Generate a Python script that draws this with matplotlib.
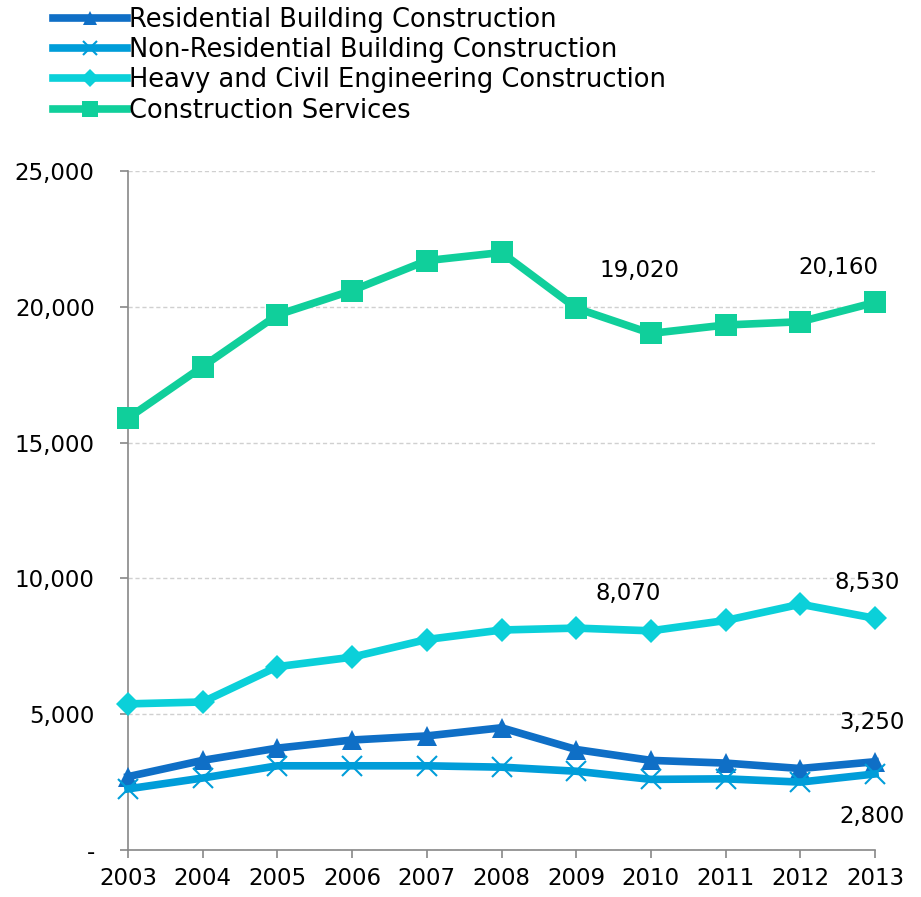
import matplotlib
matplotlib.use("Agg")
import matplotlib.pyplot as plt
from matplotlib.ticker import FuncFormatter

years = [2003, 2004, 2005, 2006, 2007, 2008, 2009, 2010, 2011, 2012, 2013]
residential = [2700, 3300, 3750, 4050, 4200, 4500, 3700, 3300, 3200, 3000, 3250]
non_residential = [2250, 2650, 3100, 3100, 3100, 3050, 2900, 2600, 2620, 2500, 2800]
heavy_civil = [5380, 5450, 6750, 7100, 7750, 8100, 8170, 8070, 8450, 9050, 8530]
services = [15900, 17800, 19700, 20600, 21700, 22000, 19950, 19020, 19330, 19450, 20160]

series_names = ["Residential Building Construction",
                "Non-Residential Building Construction",
                "Heavy and Civil Engineering Construction",
                "Construction Services"]
y_ticks = [0, 5000, 10000, 15000, 20000, 25000]

plt.rcParams['font.family'] = ['DejaVu Sans']
FS = 16.5
FS_LEG = 18.5

fig = plt.figure(figsize=(9.21, 8.97), dpi=100)
ax = fig.add_axes([128/921, 1-850/897, (875-128)/921, (850-171)/897])

colors = ["#0F6FC6", "#009DD9", "#0BD0D9", "#10CF9B"]
markers = ["^", "x", "D", "s"]
msizes = [14, 14, 12, 16]
data = [residential, non_residential, heavy_civil, services]
lines = []
for vals, c, m, ms, name in zip(data, colors, markers, msizes, series_names):
    kw = dict(markeredgewidth=1.5) if m == "x" else dict(markeredgewidth=0)
    ln, = ax.plot(years, vals, color=c, lw=5.5, marker=m, markersize=ms,
                  markeredgecolor=c, markerfacecolor=c, clip_on=False,
                  label=name, solid_joinstyle='miter', zorder=3, **kw)
    lines.append(ln)

ax.set_xlim(2003, 2013)
ax.set_ylim(0, 25000)
ax.set_xticks(years)
ax.set_yticks(y_ticks)
ax.yaxis.set_major_formatter(FuncFormatter(lambda v, p: "-" if v == 0 else f"{int(v):,}"))
ax.tick_params(axis='both', labelsize=FS, colors='#888888', labelcolor='black',
               length=6, width=1.2, direction='out')
ax.tick_params(axis='y', pad=18)
ax.tick_params(axis='x', pad=6)
for s in ['top', 'right']:
    ax.spines[s].set_visible(False)
for s in ['left', 'bottom']:
    ax.spines[s].set_color('#888888')
    ax.spines[s].set_linewidth(1.2)
ax.yaxis.grid(True, linestyle=(0, (3, 2)), color='#D0D0D0', lw=1)
ax.set_axisbelow(True)

def lab(x, y, text, dx, dy):
    ax.annotate(text, (x, y), xytext=(dx*0.72, dy*0.72), textcoords='offset points',
                ha='center', va='center', fontsize=FS, color='black', zorder=5,
                annotation_clip=False)

lab(2010, services[7], f"{services[7]:,}", -11, 63)
lab(2013, services[10], f"{services[10]:,}", -37, 35)
lab(2010, heavy_civil[7], f"{heavy_civil[7]:,}", -23, 37)
lab(2013, heavy_civil[10], f"{heavy_civil[10]:,}", -8, 36)
lab(2013, residential[10], f"{residential[10]:,}", -3, 39)
lab(2013, non_residential[10], f"{non_residential[10]:,}", -3, -43)

fig.legend(handles=lines, loc='upper left', bbox_to_anchor=(50/921, 1 - 4/897),
           frameon=False, fontsize=FS_LEG, handlelength=2.9, handletextpad=0.08,
           labelspacing=0.17, borderaxespad=0, borderpad=0.1, markerscale=0.75)

fig.savefig("out.png", dpi=100)
